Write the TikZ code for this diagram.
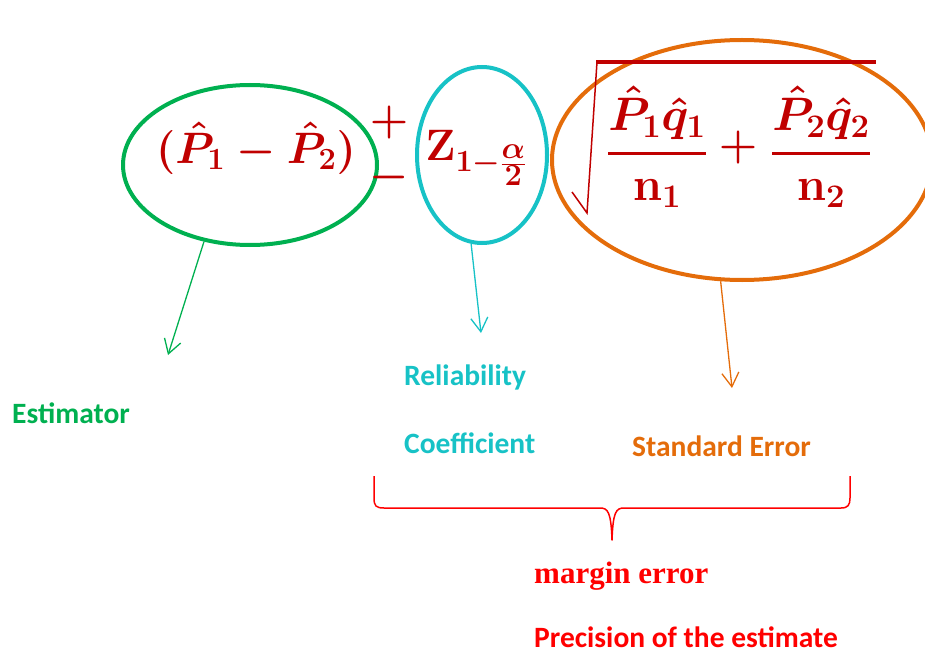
\RequirePackage{fix-cm}
\documentclass[tikz,border=0pt]{standalone}
\usepackage{amsmath}
\usepackage{fontspec}
\setmainfont{Carlito}
\newfontfamily\serifbold{Liberation Serif}
\usetikzlibrary{shapes.geometric,arrows.meta}
\definecolor{dgreen}{HTML}{00B050}
\definecolor{tealc}{HTML}{17C2C6}
\definecolor{orng}{HTML}{E46C0A}
\definecolor{dred}{HTML}{C00000}
\definecolor{bred}{HTML}{FF0000}
\begin{document}
\begin{tikzpicture}[x=1pt,y=-1pt,
  ell/.style={ellipse, line width=4pt, inner sep=0pt},
  arr/.style={line width=1.3pt, -{Straight Barb[length=14pt,width=17pt,line width=1.3pt]}},
  lbl/.style={inner sep=0pt, anchor=west, font=\bfseries\fontsize{29.5}{34}\selectfont},
  mth/.style={inner sep=0pt, text=dred, font=\fontsize{44}{50}\selectfont\boldmath},
  frc/.style={inner sep=0pt, text=dred, font=\fontsize{47}{52}\selectfont\boldmath},
]
\useasboundingbox (0,0) rectangle (925,655);
% ellipses
\node[ell, draw=dgreen, minimum width=254pt, minimum height=160pt] (g) at (250,165) {};
\node[ell, draw=tealc, minimum width=130pt, minimum height=176pt] (c) at (482,155) {};
\node[ell, draw=orng, minimum width=380pt, minimum height=240pt] (o) at (742,160) {};
% formula
\node[mth] (est) at (256,148) {$(\hat{P}_1-\hat{P}_2)$};
\node[mth] (pl) at (389,123) {$+$};
\node[mth] (mi) at (389,177) {$-$};
\node[mth] (z) at (476,158) {$\mathbf{Z}_{\mathbf{1}-\frac{\scriptstyle\alpha}{\scriptstyle\mathbf{2}}}$};
\draw[dred, line width=1.5pt, line join=miter] (572,192) -- (587,213) -- (597,62);
\draw[dred, line width=4pt] (596,62) -- (876,62);
\node[frc] (f1) at (657,147) {$\genfrac{}{}{3.5pt}{0}{\hat{P}_1\hat{q}_1}{\mathbf{n}_1}$};
\node[mth] (pl2) at (738,148) {$+$};
\node[frc] (f2) at (821,147) {$\genfrac{}{}{3.5pt}{0}{\hat{P}_2\hat{q}_2}{\mathbf{n}_2}$};
% arrows
\coordinate (ga) at (168,355);
\coordinate (ca) at (481,333);
\coordinate (oa) at (732,388);
\draw[arr, dgreen] (g.239) -- (ga);
\draw[arr, tealc] (c.263) -- (ca);
\draw[arr, orng] (o.260) -- (oa);
% labels
\node[lbl, text=dgreen] (t1) at (12,413) {Estimator};
\node[lbl, text=tealc] (t2) at (404,377) {Reliability};
\node[lbl, text=tealc] (t3) at (404,443) {Coefficient};
\node[lbl, text=orng] (t4) at (632,446) {Standard Error};
% brace
\draw[bred, line width=1.5pt, line join=round] (374,476) -- (374,498)
  .. controls (374,506) and (376,508) .. (384,508) -- (600,508)
  .. controls (608,508) and (611,512) .. (612,540)
  .. controls (613,512) and (616,508) .. (624,508) -- (841,508)
  .. controls (848,508) and (850,505) .. (850,498) -- (850,476);
\node[inner sep=0pt, anchor=west, text=bred, font=\serifbold\bfseries\fontsize{31}{36}\selectfont] (t5) at (534,576) {margin error};
\node[lbl, text=bred] (t6) at (534,637) {Precision of the estimate};
\end{tikzpicture}
\end{document}
